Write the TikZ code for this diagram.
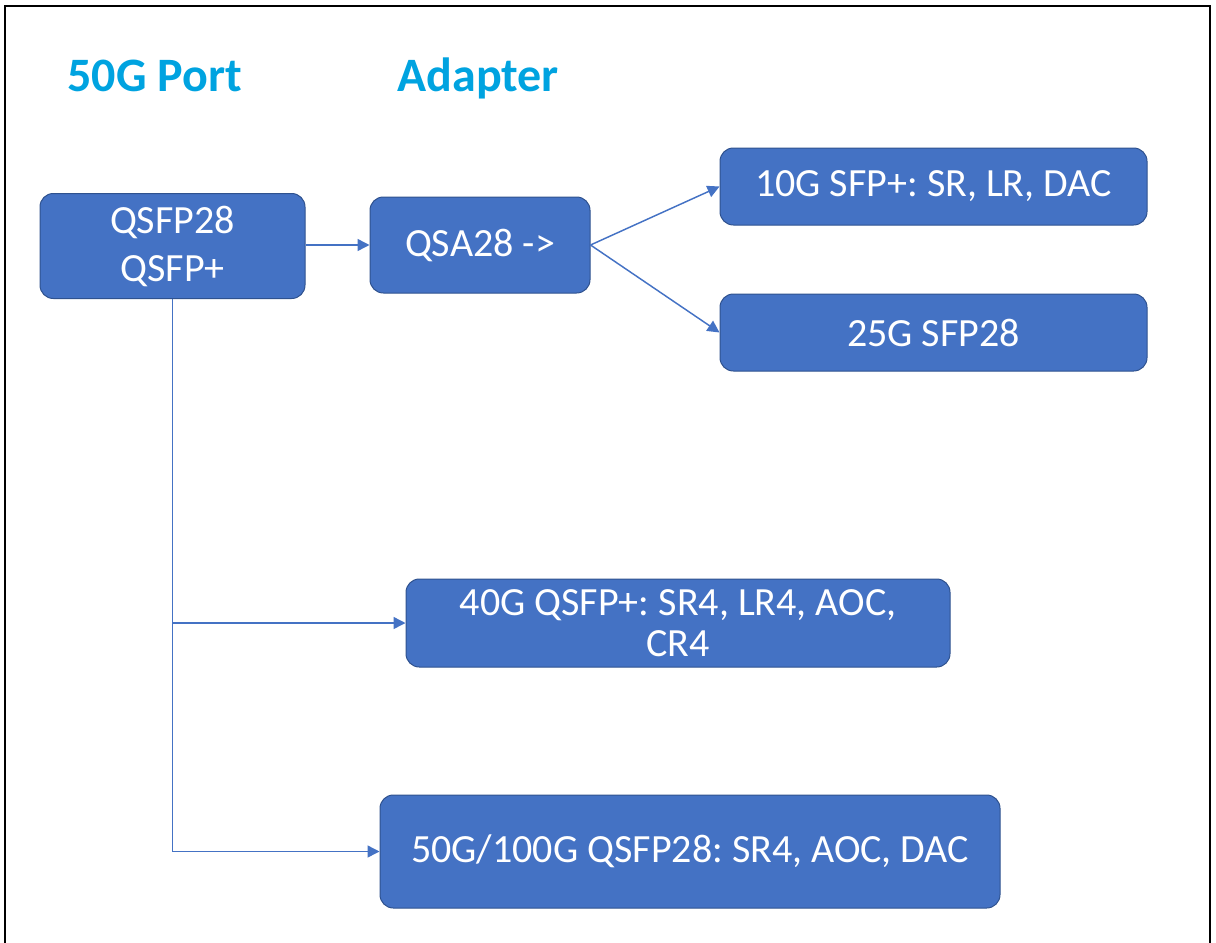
\documentclass[tikz,border=0pt]{standalone}
\usepackage{fontspec}
\setmainfont{Carlito}
\usetikzlibrary{arrows.meta}

\definecolor{boxblue}{RGB}{68,114,196}
\definecolor{boxedge}{RGB}{47,82,143}
\definecolor{titleblue}{RGB}{0,163,224}

\tikzset{every picture/.style={line width=0.75pt}}
\tikzset{
  portbox/.style={draw=boxedge, fill=boxblue, rounded corners=10pt, text=white,
    font=\fontsize{30}{36}\selectfont\frenchspacing, align=center, inner sep=0pt},
  headtext/.style={anchor=base west, inner sep=0pt, text=titleblue,
    font=\fontsize{36}{43}\selectfont\bfseries},
  conn/.style={draw=boxblue, line width=1.1pt, -{Triangle[length=9pt,width=9pt]}},
}

\begin{document}
\begin{tikzpicture}[x=0.75pt,y=0.75pt,yscale=-1,xscale=1]
        \useasboundingbox (0,0) rectangle (1216,942);

        %Frame
        \draw [line width=1.5pt]  (5,960) -- (5,6) -- (1210,6) -- (1210,960) ;

        % Text Node
        \node [headtext] (porthead) at (67,92) {50G Port};
        % Text Node
        \node [headtext] (adapthead) at (397,92) {Adapter};

        %Rounded Rect
        \node [portbox, minimum width=265*0.75pt, minimum height=105*0.75pt] (port) at (172.5,246) {QSFP28\\QSFP+};
        %Rounded Rect
        \node [portbox, minimum width=220*0.75pt, minimum height=96*0.75pt] (qsa) at (480,245) {QSA28 ->};
        %Rounded Rect
        \node [portbox, minimum width=427*0.75pt, minimum height=77*0.75pt] (sfpten) at (933.5,186.5) {10G SFP+: SR, LR, DAC};
        %Rounded Rect
        \node [portbox, minimum width=427*0.75pt, minimum height=77*0.75pt] (sfptwentyfive) at (933.5,332.5) {25G SFP28};
        %Rounded Rect
        \node [portbox, minimum width=544*0.75pt, minimum height=88*0.75pt, font=\fontsize{30}{31}\selectfont\frenchspacing] (qsfpforty) at (678,623) {40G QSFP+: SR4, LR4, AOC,\\CR4};
        %Rounded Rect
        \node [portbox, minimum width=620*0.75pt, minimum height=113*0.75pt] (qsfpfifty) at (690,851.5) {50G/100G QSFP28: SR4, AOC, DAC};

        %Straight Lines
        \draw [conn]  (port.east |- qsa.west) -- (qsa.west) ;
        \draw [conn]  (qsa.east) -- (sfpten.west) ;
        \draw [conn]  (qsa.east) -- (sfptwentyfive.west) ;
        %Elbow Lines
        \draw [conn]  (port.south) |- (qsfpfifty.west) ;
        \draw [conn]  (port.south |- qsfpforty.west) -- (qsfpforty.west) ;

    \end{tikzpicture}
\end{document}
